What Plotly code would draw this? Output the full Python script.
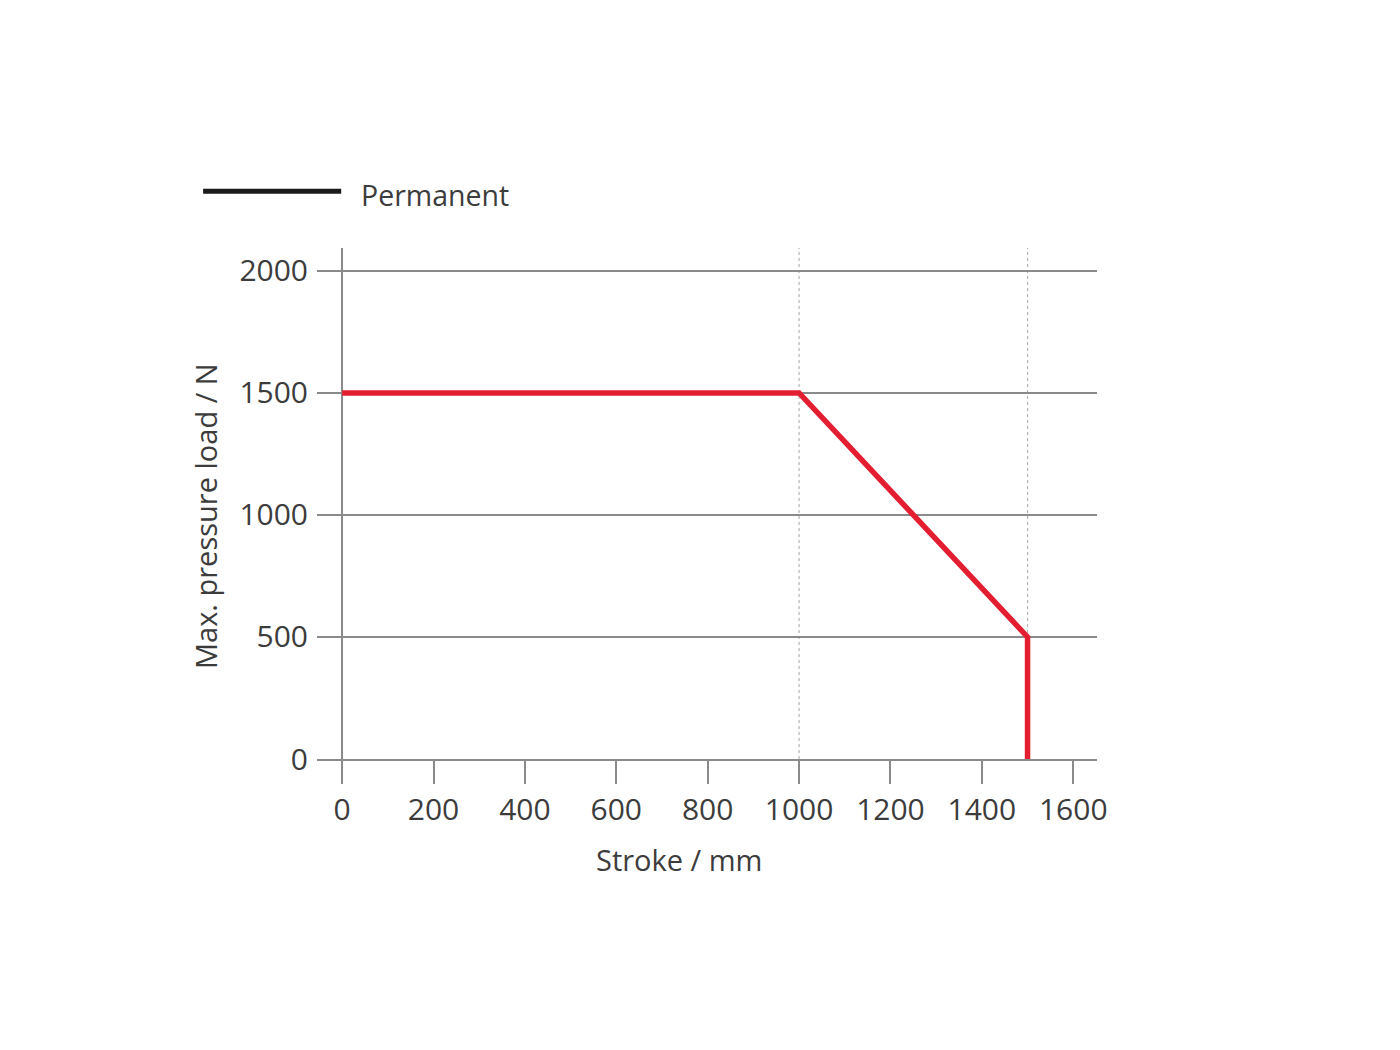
import plotly.graph_objects as go

# Data
stroke_mm = [0, 1000, 1500, 1500]
max_load_n = [1500, 1500, 500, 0]
ref_strokes = [1000, 1500]
x_ticks = [0, 200, 400, 600, 800, 1000, 1200, 1400, 1600]
y_ticks = [0, 500, 1000, 1500, 2000]
series_name = "Permanent"
x_title = "Stroke / mm"
y_title = "Max. pressure load / N"

FONT = "Open Sans"
TXT = "#3c3c3c"
GRID = "#8a8a8a"
RED = "#e41e31"

fig = go.Figure()

for xr in ref_strokes:
    fig.add_vline(x=xr, line=dict(color="#b5b5b5", width=1.2, dash="dot"), layer="below")

fig.add_trace(go.Scatter(
    x=stroke_mm, y=max_load_n, mode="lines", name=series_name,
    line=dict(color=RED, width=5.5), showlegend=False,
))

# legend key (drawn manually to match the long black key)
fig.add_shape(type="line", xref="paper", yref="paper",
              x0=-0.146, x1=0.031, y0=1.111, y1=1.111,
              line=dict(color="#1a1a1a", width=5))
fig.add_annotation(text=series_name, xref="paper", yref="paper",
                   x=0.054, y=1.104, xanchor="left", yanchor="middle",
                   showarrow=False, font=dict(family=FONT, size=28.5, color=TXT))

fig.add_annotation(text=x_title, xref="paper", yref="paper",
                   x=0.464, y=-0.196, xanchor="center", yanchor="middle",
                   showarrow=False, font=dict(family=FONT, size=29, color=TXT))
fig.add_annotation(text=y_title, xref="paper", yref="paper",
                   x=-0.142, y=0.476, xanchor="center", yanchor="middle",
                   textangle=-90, showarrow=False,
                   font=dict(family=FONT, size=29, color=TXT))

fig.update_layout(
    width=1400, height=1050,
    margin=dict(l=309, r=311, t=240, b=299),
    paper_bgcolor="white", plot_bgcolor="white",
    showlegend=False,
    xaxis=dict(range=[-55, 1652], tickvals=x_ticks, ticktext=[str(v) for v in x_ticks],
               showgrid=False, zeroline=True, zerolinecolor=GRID, zerolinewidth=1.5,
               showline=True, linecolor=GRID, linewidth=1.5,
               ticks="outside", ticklen=23, tickwidth=1.5, tickcolor=GRID,
               tickfont=dict(family=FONT, size=30, color=TXT)),
    yaxis=dict(range=[0, 2094], tickvals=y_ticks, ticktext=[str(v) for v in y_ticks],
               showgrid=True, gridcolor=GRID, gridwidth=1.5,
               zeroline=False, showline=False, ticks="",
               ticklabelstandoff=8,
               tickfont=dict(family=FONT, size=30, color=TXT)),
)

fig.write_html("out.html")
